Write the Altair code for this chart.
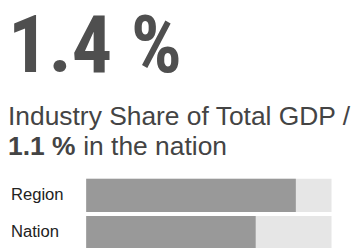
import altair as alt
import pandas as pd

headline = ["1.4 %"]
subtitle_line = ["Industry Share of Total GDP /"]
nation_bold = ["1.1 %"]
nation_rest = ["in the nation"]
categories = ["Region", "Nation"]
shares = [1.41, 1.14]
track_max = [1.65, 1.65]

bars_df = pd.DataFrame({"cat": categories, "share": shares, "max": track_max})

yscale = alt.Scale(domain=categories, range=[172, 244], paddingInner=0.105, paddingOuter=0)
xscale = alt.Scale(domain=[0, 1.65], range=[80, 331])

base = alt.Chart(bars_df)
track = base.mark_bar(color="#e6e6e6").encode(
    y=alt.Y("cat:N", scale=yscale, axis=None),
    x=alt.X("max:Q", scale=xscale, axis=None),
)
fill = base.mark_bar(color="#999999").encode(
    y=alt.Y("cat:N", scale=yscale, axis=None),
    x=alt.X("share:Q", scale=xscale, axis=None),
)
labels = base.mark_text(align="left", baseline="middle", fontSize=17,
                        font="Liberation Sans", color="#222222").encode(
    y=alt.Y("cat:N", scale=yscale, axis=None),
    x=alt.value(3),
    text="cat:N",
)

head = alt.Chart(pd.DataFrame({"t": headline})).mark_text(
    align="left", baseline="alphabetic",
    font="'Roboto Condensed', 'DejaVu Sans Condensed', Roboto",
    fontWeight="bold",
    fontSize=82, color="#4f4f4f").encode(x=alt.value(0), y=alt.value(63), text="t:N")

sub1 = alt.Chart(pd.DataFrame({"t": subtitle_line})).mark_text(
    align="left", baseline="alphabetic", font="Liberation Sans",
    fontSize=27, color="#444444").encode(x=alt.value(0), y=alt.value(117), text="t:N")

sub2a = alt.Chart(pd.DataFrame({"t": nation_bold})).mark_text(
    align="left", baseline="alphabetic", font="Liberation Sans", fontWeight="bold",
    fontSize=27, color="#444444").encode(x=alt.value(0), y=alt.value(148), text="t:N")

sub2b = alt.Chart(pd.DataFrame({"t": nation_rest})).mark_text(
    align="left", baseline="alphabetic", font="Liberation Sans",
    fontSize=27, color="#444444").encode(x=alt.value(77), y=alt.value(148), text="t:N")

chart = alt.layer(track, fill, labels, head, sub1, sub2a, sub2b).properties(
    width=354, height=240, padding=0, autosize="none"
).configure_view(stroke=None)

chart.save("out.html", embed_options={"renderer": "svg", "actions": False})
